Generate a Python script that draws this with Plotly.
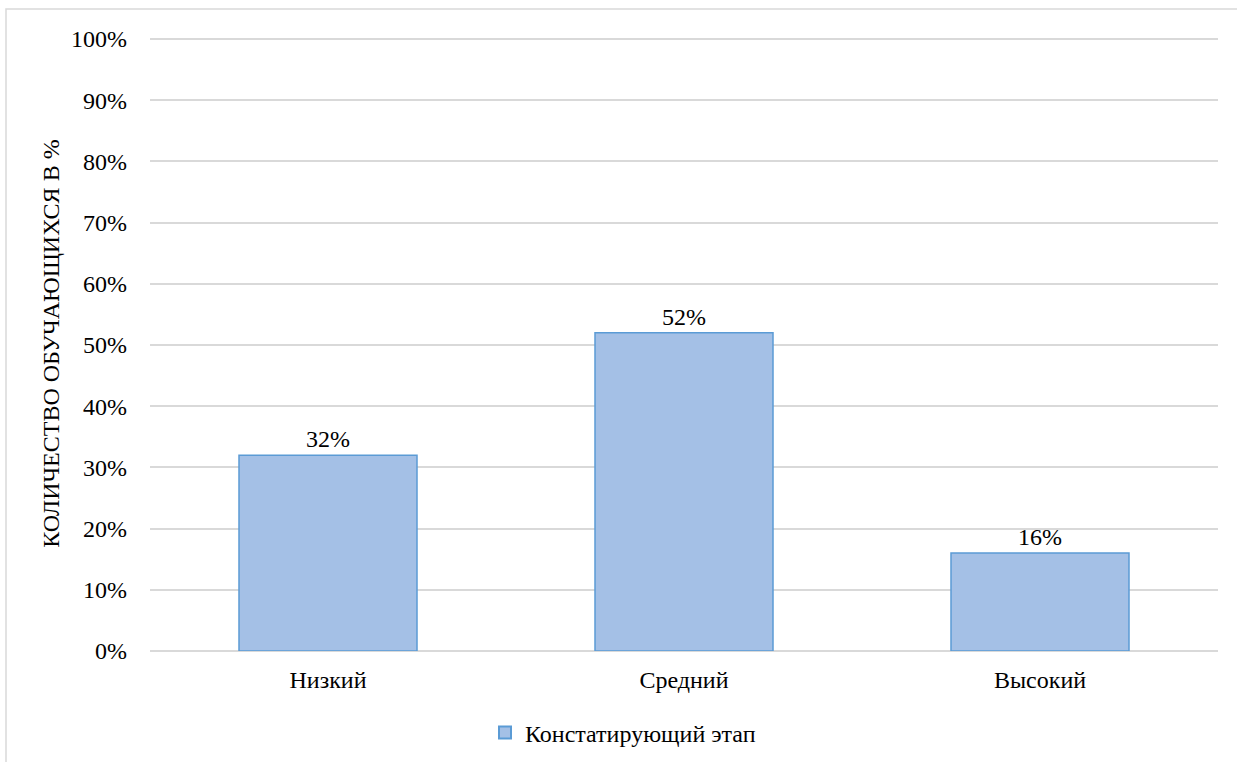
import plotly.graph_objects as go

categories = ["Низкий", "Средний", "Высокий"]
values = [32, 52, 16]
labels = ["32%", "52%", "16%"]
series_name = "Констатирующий этап"
y_ticks = [0, 10, 20, 30, 40, 50, 60, 70, 80, 90, 100]
y_ticktext = [f"{v}%" for v in y_ticks]

W, H = 1237, 762
L, R, T, B = 150, 19, 36, 111
pw, ph = W - L - R, H - T - B
font = "Liberation Serif"
fs = 24

fig = go.Figure()
fig.add_trace(go.Bar(
    x=categories, y=values, name=series_name,
    text=labels, textposition="outside", cliponaxis=False,
    textfont=dict(family=font, size=fs, color="#000000"),
    marker=dict(color="#a4c0e6", line=dict(color="#5b9bd5", width=1.5)),
    width=0.5, showlegend=True,
))

fig.update_layout(
    width=W, height=H,
    margin=dict(l=L, r=R, t=T, b=B, autoexpand=False),
    paper_bgcolor="white", plot_bgcolor="white",
    font=dict(family=font, size=fs, color="#000000"),
    showlegend=True,
    legend=dict(orientation="h", x=(623 - L) / pw, xanchor="center",
                y=-(733 - (T + ph)) / ph, yanchor="middle",
                font=dict(family=font, size=fs),
                itemsizing="constant", itemwidth=30),
    xaxis=dict(showgrid=False, showline=False, ticks="", automargin=False,
               tickfont=dict(family=font, size=fs), ticklabelstandoff=12),
    yaxis=dict(range=[0, 100.5], tickvals=y_ticks, ticktext=y_ticktext,
               showgrid=True, gridcolor="#d9d9d9", gridwidth=1.5,
               zeroline=True, zerolinecolor="#d9d9d9", zerolinewidth=1.5,
               showline=False, ticks="", ticklabelstandoff=22, automargin=False,
               tickfont=dict(family=font, size=fs),
               title=dict(text="КОЛИЧЕСТВО ОБУЧАЮЩИХСЯ В %",
                          font=dict(family=font, size=fs), standoff=4)),
    shapes=[dict(type="rect", xref="paper", yref="paper",
                 x0=-(L - 6) / pw, x1=(W + 20 - L) / pw,
                 y0=-(H + 20 - T - ph) / ph, y1=1 + (T - 9) / ph,
                 line=dict(color="#d9d9d9", width=1.5), layer="below")],
)

fig.write_html("out.html", config={"displayModeBar": False},
               post_script="document.body.style.margin='0';document.body.style.overflow='hidden';")
